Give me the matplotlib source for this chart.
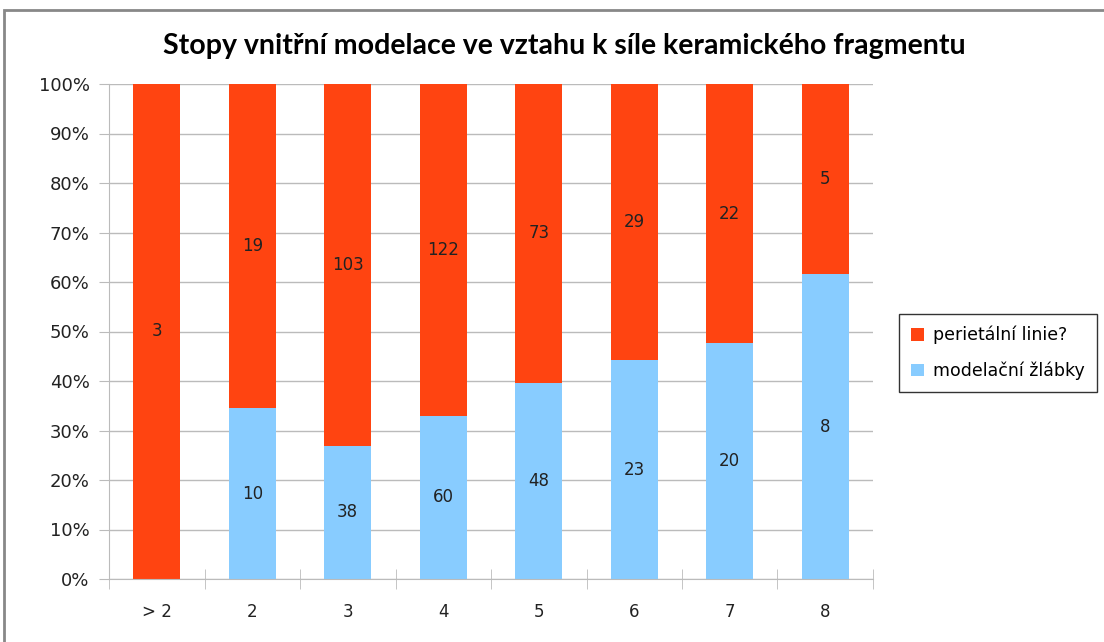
import matplotlib
matplotlib.use('Agg')
import matplotlib.pyplot as plt
from matplotlib.patches import Rectangle
import numpy as np

plt.rcParams['font.family'] = ['DejaVu Sans']

categories = ['> 2', '2', '3', '4', '5', '6', '7', '8']
zlabky = [0, 10, 38, 60, 48, 23, 20, 8]
linie = [3, 19, 103, 122, 73, 29, 22, 5]
series_names = ['perietální linie?', 'modelační žlábky']
red = '#FF4411'
blue = '#88CCFF'

W, H = 1104, 642
fig = plt.figure(figsize=(W / 100, H / 100), dpi=100)
ax = fig.add_axes([109 / W, 1 - 579 / H, (873 - 109) / W, (579 - 84) / H])

zl = np.array(zlabky, dtype=float)
li = np.array(linie, dtype=float)
tot = zl + li
zp = zl / tot * 100
lp = li / tot * 100
x = np.arange(len(categories))

ax.bar(x, zp, width=0.49, color=blue, zorder=2, label=series_names[1])
ax.bar(x, lp, bottom=zp, width=0.49, color=red, zorder=2, label=series_names[0])

for i in range(len(x)):
    if zl[i] > 0:
        ax.text(x[i], zp[i] / 2, f"{int(zl[i])}", ha='center', va='center', fontsize=12,
                family='DejaVu Sans', color='#222222', zorder=3)
    if li[i] > 0:
        ax.text(x[i], zp[i] + lp[i] / 2, f"{int(li[i])}", ha='center', va='center', fontsize=12,
                family='DejaVu Sans', color='#222222', zorder=3)

ax.set_xlim(-0.5, len(x) - 0.5)
ax.set_ylim(0, 100)
ax.set_yticks(np.arange(0, 101, 10))
ax.set_yticklabels([f"{v}%" for v in range(0, 101, 10)])
ax.yaxis.grid(True, color='#BBBBBB', linewidth=1, zorder=0)
ax.set_xticks(x)
ax.set_xticklabels(categories)
ax.set_xticks(np.arange(-0.5, len(x), 1), minor=True)
ax.tick_params(axis='x', which='major', length=0, pad=17, labelsize=12, colors='#222222')
ax.tick_params(axis='x', which='minor', length=14, direction='inout', color='#BBBBBB')
ax.tick_params(axis='y', length=7, direction='out', color='#BBBBBB', labelsize=13, pad=7, labelcolor='#222222')
for s in ['top', 'right']:
    ax.spines[s].set_visible(False)
ax.spines['left'].set_color('#BBBBBB')
ax.spines['bottom'].set_color('#BBBBBB')

fig.text(564 / W, 1 - 46 / H, 'Stopy vnitřní modelace ve vztahu k síle keramického fragmentu',
         ha='center', va='center', fontsize=20.5, fontweight='bold',
         family=['Lato', 'DejaVu Sans'])

handles, labels = ax.get_legend_handles_labels()
leg = fig.legend(handles[::-1], labels[::-1], loc='center left', bbox_to_anchor=(899 / W, 1 - 353 / H),
                 frameon=True, fancybox=False, edgecolor='black', borderaxespad=0,
                 handlelength=0.75, handleheight=0.75, handletextpad=0.5, labelspacing=1.0,
                 borderpad=0.7, prop={'family': 'DejaVu Sans', 'size': 12.5})
leg.get_frame().set_linewidth(1)

fig.patches.append(Rectangle((4 / W, -0.1), 1.2, 1 - 10 / H + 0.1, transform=fig.transFigure,
                             fill=False, edgecolor='#888888', linewidth=2))

fig.savefig('out.png', dpi=100)
